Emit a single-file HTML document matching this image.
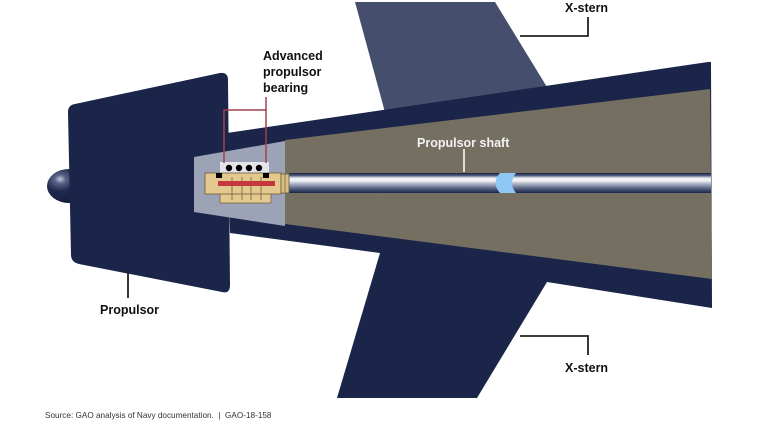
<!DOCTYPE html>
<html><head><meta charset="utf-8"><style>
html,body{margin:0;padding:0;background:#fff;}
svg{display:block;}
text{font-family:"Liberation Sans",Arial,sans-serif;}
</style></head><body>
<svg width="768" height="422" viewBox="0 0 768 422" xmlns="http://www.w3.org/2000/svg">
<defs>
<linearGradient id="shaft" x1="0" y1="0" x2="0" y2="1">
<stop offset="0" stop-color="#1a2549"/>
<stop offset="0.12" stop-color="#4a5474"/>
<stop offset="0.25" stop-color="#e9ebf1"/>
<stop offset="0.38" stop-color="#f4f5f8"/>
<stop offset="0.55" stop-color="#a9afc2"/>
<stop offset="0.78" stop-color="#55607f"/>
<stop offset="1" stop-color="#1a2549"/>
</linearGradient>
<radialGradient id="dome" cx="0.3" cy="0.3" r="0.7">
<stop offset="0" stop-color="#c4cadb"/>
<stop offset="0.18" stop-color="#5a6486"/>
<stop offset="0.5" stop-color="#1f2a4e"/>
<stop offset="1" stop-color="#16203f"/>
</radialGradient>
</defs>

<!-- upper fin -->
<polygon points="355,2 495,2 550,92 386,116" fill="#454f6d"/>

<!-- hull navy -->
<polygon points="227,133 708,62 711,62 712,308 547,282 477,398 337,398 380,253 230,233" fill="#1a2549"/>

<!-- hub dome -->
<ellipse cx="69" cy="186" rx="22" ry="17" fill="url(#dome)"/>

<!-- propulsor -->
<path d="M75 104 L220 73 Q228 72 228 80 L230 285 Q230 294 222 292 L79 264 Q71 262 71 255 L68 112 Q68 105 75 104 Z" fill="#1a2549"/>

<!-- grey interior -->
<polygon points="194,157 285,141 285,226 194,212" fill="#9ca3b6"/>
<!-- taupe interior -->
<polygon points="285,140 710,89 712,279 285,224" fill="#756f62"/>

<!-- shaft -->
<rect x="289" y="173" width="422" height="20" fill="url(#shaft)"/>
<path d="M500 173 L516 173 Q508 183 516 193 L500 193 Q491 183 500 173 Z" fill="#8fc8f4"/>

<!-- bearing -->
<rect x="220" y="162" width="49" height="11" fill="#e4e5ea"/>
<circle cx="229" cy="168" r="3.2" fill="#000"/>
<circle cx="239" cy="168" r="3.2" fill="#000"/>
<circle cx="249" cy="168" r="3.2" fill="#000"/>
<circle cx="259" cy="168" r="3.2" fill="#000"/>
<rect x="220" y="193" width="51" height="10" fill="#e4c98e" stroke="#6b5a38" stroke-width="0.7"/>
<rect x="205" y="173" width="76" height="21" fill="#e4c98e" stroke="#6b5a38" stroke-width="0.8"/>
<rect x="281" y="174" width="8" height="19" fill="#dcbf84" stroke="#6b5a38" stroke-width="0.8"/>
<line x1="285" y1="174" x2="285" y2="193" stroke="#6b5a38" stroke-width="0.7"/>
<rect x="216" y="173" width="6" height="5" fill="#000"/>
<rect x="263" y="173" width="6" height="5" fill="#000"/>
<g stroke="#8a7346" stroke-width="1">
<line x1="232" y1="177" x2="232" y2="200"/>
<line x1="242" y1="177" x2="242" y2="200"/>
<line x1="251" y1="177" x2="251" y2="200"/>
<line x1="261" y1="177" x2="261" y2="200"/>
</g>
<rect x="218" y="181" width="57" height="5" fill="#c4373c"/>

<!-- bracket -->
<g stroke="#a3404c" stroke-width="1.5" fill="none">
<polyline points="224,163 224,110 266,110"/>
<line x1="266" y1="97" x2="266" y2="163"/>
</g>

<!-- leader lines -->
<g stroke="#222" stroke-width="1.8" fill="none">
<polyline points="520,36 588,36 588,17"/>
<polyline points="520,336 588,336 588,355"/>
<line x1="128" y1="270" x2="128" y2="298"/>
</g>
<line x1="464" y1="149" x2="464" y2="172" stroke="#ffffff" stroke-width="1.5"/>

<!-- labels -->
<g font-weight="bold" font-size="12.5" fill="#111">
<text x="263" y="60">Advanced</text>
<text x="263" y="76">propulsor</text>
<text x="263" y="92">bearing</text>
<text x="565" y="12">X-stern</text>
<text x="565" y="372">X-stern</text>
<text x="100" y="314">Propulsor</text>
</g>
<text x="417" y="147" font-weight="bold" font-size="12.5" fill="#f2f2f2">Propulsor shaft</text>
<text x="45" y="418" font-size="8.2" fill="#333">Source: GAO analysis of Navy documentation.&#160;&#160;|&#160;&#160;GAO-18-158</text>
</svg>
</body></html>
